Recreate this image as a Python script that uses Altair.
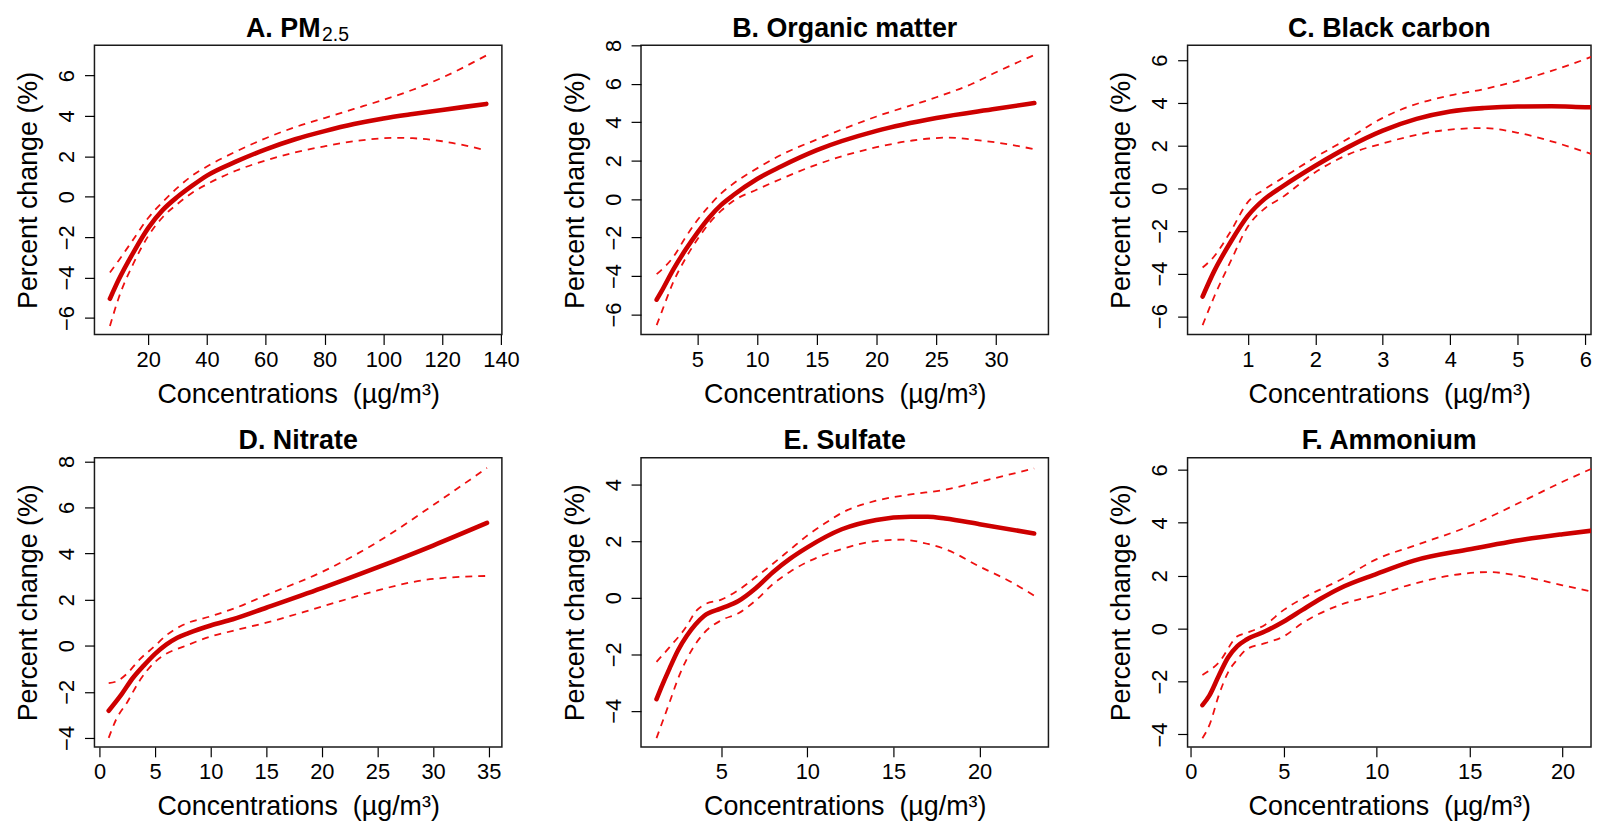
import altair as alt
import pandas as pd

FONT = "Liberation Sans"
FIT_COLOR = "#CD0000"
CI_COLOR = "#EE1010"
X_TITLE = "Concentrations\u00a0 (µg/m³)"
Y_TITLE = "Percent change (%)"

# ---------------- Panel A: PM2.5 ----------------
a_fit_x = [7, 10, 15, 20, 25, 30, 35, 40, 50, 60, 70, 80, 90, 100, 110, 120, 135]
a_fit_y = [-5.05, -4.1, -2.75, -1.55, -0.65, 0.0, 0.55, 1.05, 1.75, 2.35, 2.85, 3.25, 3.6, 3.88, 4.1, 4.3, 4.6]
a_up_x = [7, 10, 15, 20, 25, 30, 35, 40, 50, 60, 70, 80, 90, 100, 110, 120, 135]
a_up_y = [-3.75, -3.15, -2.1, -1.05, -0.25, 0.45, 1.05, 1.5, 2.25, 2.9, 3.45, 3.9, 4.35, 4.8, 5.3, 5.9, 7.0]
a_lo_x = [7, 10, 15, 20, 25, 30, 35, 40, 50, 60, 70, 80, 90, 100, 105, 110, 120, 135]
a_lo_y = [-6.4, -5.0, -3.3, -1.95, -1.0, -0.35, 0.2, 0.62, 1.3, 1.8, 2.2, 2.5, 2.75, 2.9, 2.92, 2.9, 2.75, 2.3]
a_xticks = [20, 40, 60, 80, 100, 120, 140]
a_yticks = [-6, -4, -2, 0, 2, 4, 6]

# ---------------- Panel B: Organic matter ----------------
b_fit_x = [1.6, 2, 3, 4, 5, 6, 7, 8, 10, 12, 15, 20, 25, 30, 33.2]
b_fit_y = [-5.23, -4.8, -3.65, -2.65, -1.75, -0.95, -0.3, 0.2, 1.05, 1.7, 2.55, 3.55, 4.22, 4.7, 5.0]
b_up_x = [1.6, 3, 4, 5, 6, 7, 8, 10, 12, 15, 20, 25, 28, 30, 33.2]
b_up_y = [-3.9, -3.0, -2.0, -1.1, -0.35, 0.3, 0.8, 1.6, 2.3, 3.1, 4.3, 5.3, 6.0, 6.6, 7.5]
b_lo_x = [1.6, 2, 3, 4, 5, 6, 7, 8, 10, 12, 15, 20, 23, 26, 28, 30, 33.2]
b_lo_y = [-6.55, -5.9, -4.3, -3.1, -2.1, -1.25, -0.6, -0.1, 0.5, 1.05, 1.8, 2.7, 3.05, 3.2, 3.1, 2.95, 2.6]
b_xticks = [5, 10, 15, 20, 25, 30]
b_yticks = [-6, -4, -2, 0, 2, 4, 6, 8]

# ---------------- Panel C: Black carbon ----------------
c_x = [0.33, 0.5, 0.75, 1.0, 1.25, 1.5, 2.0, 2.5, 3.0, 3.5, 4.0, 4.5, 5.0, 5.5, 6.0, 6.2]
c_fit_y = [-5.08, -3.9, -2.5, -1.3, -0.5, 0.05, 1.05, 1.95, 2.7, 3.25, 3.6, 3.76, 3.83, 3.84, 3.8, 3.79]
c_up_y = [-3.72, -3.2, -2.0, -0.65, -0.05, 0.45, 1.45, 2.35, 3.3, 3.95, 4.35, 4.65, 5.03, 5.5, 6.05, 6.3]
c_lo_y = [-6.42, -5.1, -3.4, -1.8, -0.95, -0.45, 0.75, 1.6, 2.1, 2.5, 2.75, 2.82, 2.6, 2.2, 1.7, 1.5]
c_xticks = [1, 2, 3, 4, 5, 6]
c_yticks = [-6, -4, -2, 0, 2, 4, 6]

# ---------------- Panel D: Nitrate ----------------
d_fit_x = [0.83, 2, 3, 4, 5, 6, 7, 8, 10, 12, 15, 20, 25, 30, 34.85]
d_fit_y = [-2.82, -2.1, -1.4, -0.85, -0.35, 0.05, 0.35, 0.55, 0.88, 1.15, 1.65, 2.5, 3.4, 4.35, 5.33]
d_up_x = [0.83, 1.5, 2.5, 3.5, 5, 6, 7.5, 10, 12, 15, 20, 25, 30, 34.85]
d_up_y = [-1.62, -1.55, -1.2, -0.65, 0.0, 0.45, 0.9, 1.28, 1.6, 2.2, 3.2, 4.5, 6.1, 7.72]
d_lo_x = [0.83, 1.5, 2.5, 3.5, 5, 6, 7.5, 10, 12, 15, 20, 25, 28, 30, 34.85]
d_lo_y = [-4.0, -3.2, -2.45, -1.6, -0.7, -0.35, -0.05, 0.4, 0.65, 1.0, 1.7, 2.4, 2.75, 2.9, 3.03]
d_xticks = [0, 5, 10, 15, 20, 25, 30, 35]
d_yticks = [-4, -2, 0, 2, 4, 6, 8]

# ---------------- Panel E: Sulfate ----------------
e_fit_x = [1.24, 1.5, 2, 2.5, 3, 3.5, 4, 5, 6, 7, 8, 9, 10, 12, 14, 16, 17, 18, 20, 23.17]
e_fit_y = [-3.59, -3.2, -2.5, -1.85, -1.35, -0.95, -0.65, -0.38, -0.12, 0.33, 0.9, 1.38, 1.78, 2.42, 2.75, 2.86, 2.86, 2.8, 2.6, 2.27]
e_up_x = [1.24, 2, 3, 3.5, 4, 5, 6, 7, 8, 9, 10, 11, 12, 14, 16, 18, 20, 23.17]
e_up_y = [-2.27, -1.75, -1.0, -0.5, -0.25, -0.07, 0.27, 0.72, 1.2, 1.7, 2.2, 2.62, 3.0, 3.43, 3.65, 3.82, 4.1, 4.57]
e_lo_x = [1.24, 2, 2.5, 3, 4, 5, 6, 7, 8, 9, 10, 12, 14, 15.5, 17, 18, 20, 22, 23.17]
e_lo_y = [-4.97, -3.7, -2.85, -2.17, -1.25, -0.8, -0.55, -0.1, 0.48, 0.92, 1.26, 1.72, 2.0, 2.05, 1.9, 1.72, 1.1, 0.5, 0.07]
e_xticks = [5, 10, 15, 20]
e_yticks = [-4, -2, 0, 2, 4]

# ---------------- Panel F: Ammonium ----------------
f_fit_x = [0.62, 1, 1.5, 2, 2.5, 3, 4, 5, 6, 7, 8, 10, 12, 15, 18, 20, 21.9]
f_fit_y = [-2.89, -2.52, -1.78, -1.09, -0.66, -0.41, -0.1, 0.27, 0.71, 1.14, 1.52, 2.07, 2.57, 3.0, 3.38, 3.57, 3.73]
f_up_x = [0.62, 1.5, 2.5, 3, 4, 5, 6, 8, 10, 12, 15, 18, 20, 21.9]
f_up_y = [-1.75, -1.28, -0.29, -0.16, 0.15, 0.71, 1.14, 1.83, 2.63, 3.13, 3.88, 4.87, 5.55, 6.15]
f_lo_x = [0.62, 1, 1.5, 2, 2.5, 3, 4, 5, 6, 8, 10, 12, 14, 16, 18, 20, 21.9]
f_lo_y = [-4.14, -3.64, -2.52, -1.65, -1.16, -0.78, -0.55, -0.29, 0.21, 0.89, 1.27, 1.7, 2.01, 2.14, 1.95, 1.64, 1.35]
f_xticks = [0, 5, 10, 15, 20]
f_yticks = [-4, -2, 0, 2, 4, 6]

H = 291
TITLE_Y = -8 - 0.79 * 27   # text top so that the baseline sits 8px above the frame


def panel(title, fit_x, fit_y, up_x, up_y, lo_x, lo_y, xdom, ydom, xticks, yticks, width, sub=None):
    df = pd.concat([
        pd.DataFrame({"x": fit_x, "y": fit_y, "curve": "fit"}),
        pd.DataFrame({"x": up_x, "y": up_y, "curve": "upper"}),
        pd.DataFrame({"x": lo_x, "y": lo_y, "curve": "lower"}),
    ], ignore_index=True)
    xenc = alt.X(
        "x:Q",
        scale=alt.Scale(domain=xdom, nice=False, zero=False),
        axis=alt.Axis(values=xticks, title=X_TITLE, labelPadding=5, titlePadding=11,
                      labelFlush=False, labelOverlap=False),
    )
    yenc = alt.Y(
        "y:Q",
        scale=alt.Scale(domain=ydom, nice=False, zero=False),
        axis=alt.Axis(values=yticks, title=Y_TITLE, labelAngle=-90, labelAlign="center",
                      labelBaseline="bottom", labelPadding=6, titlePadding=13,
                      labelFlush=False, labelOverlap=False),
    )
    base = alt.Chart(df).encode(x=xenc, y=yenc)
    fit = base.transform_filter(alt.datum.curve == "fit").mark_line(
        color=FIT_COLOR, strokeWidth=4.6, interpolate="monotone", strokeCap="round", clip=True)
    ci = base.transform_filter(alt.datum.curve != "fit").mark_line(
        color=CI_COLOR, strokeWidth=1.8, strokeDash=[7, 6], interpolate="monotone", clip=True
    ).encode(detail="curve:N")
    layers = [fit, ci]
    if sub is None:
        t = alt.Chart(pd.DataFrame({"label": [title]})).mark_text(
            font=FONT, fontSize=27, fontWeight="bold", align="center", baseline="top",
            color="black").encode(x=alt.value(width / 2), y=alt.value(TITLE_Y), text="label:N")
        layers.append(t)
    else:
        t = alt.Chart(pd.DataFrame({"label": [title]})).mark_text(
            font=FONT, fontSize=27, fontWeight="bold", align="right", baseline="top",
            color="black").encode(x=alt.value(width / 2 + 22.5), y=alt.value(TITLE_Y), text="label:N")
        s = alt.Chart(pd.DataFrame({"label": [sub]})).mark_text(
            font=FONT, fontSize=19.5, fontWeight="normal", align="left", baseline="alphabetic",
            color="black").encode(x=alt.value(width / 2 + 24), y=alt.value(-4), text="label:N")
        layers += [t, s]
    return alt.layer(*layers).properties(width=width, height=H)


pA = panel("A. PM", a_fit_x, a_fit_y, a_up_x, a_up_y, a_lo_x, a_lo_y,
           [1.74, 140.3], [-6.82, 7.50], a_xticks, a_yticks, 410, sub="2.5")
pB = panel("B. Organic matter", b_fit_x, b_fit_y, b_up_x, b_up_y, b_lo_x, b_lo_y,
           [0.29, 34.38], [-7.04, 8.0], b_xticks, b_yticks, 410)
pC = panel("C. Black carbon", c_x, c_fit_y, c_x, c_up_y, c_x, c_lo_y,
           [0.107, 6.086], [-6.86, 6.70], c_xticks, c_yticks, 406)
pD = panel("D. Nitrate", d_fit_x, d_fit_y, d_up_x, d_up_y, d_lo_x, d_lo_y,
           [-0.45, 36.19], [-4.39, 8.16], d_xticks, d_yticks, 410)
pE = panel("E. Sulfate", e_fit_x, e_fit_y, e_up_x, e_up_y, e_lo_x, e_lo_y,
           [0.34, 24.0], [-5.28, 4.95], e_xticks, e_yticks, 410)
pF = panel("F. Ammonium", f_fit_x, f_fit_y, f_up_x, f_up_y, f_lo_x, f_lo_y,
           [-0.18, 21.53], [-4.47, 6.46], f_xticks, f_yticks, 406)

chart = alt.concat(
    pA, pB, pC, pD, pE, pF, columns=3,
    spacing={"row": 124, "column": 140}, bounds="flush",
).properties(
    padding={"left": 6, "top": 3, "right": 0, "bottom": 0}, background="white"
).configure_view(
    stroke="#1a1a1a", strokeWidth=1.5
).configure_axis(
    grid=False, domain=False, ticks=True, tickColor="black", tickWidth=1.2, tickSize=10,
    labelFont=FONT, labelFontSize=22, labelColor="black",
    titleFont=FONT, titleFontSize=27, titleFontWeight="normal", titleColor="black",
)

chart.save("out.html", embed_options={"renderer": "svg", "actions": False})
